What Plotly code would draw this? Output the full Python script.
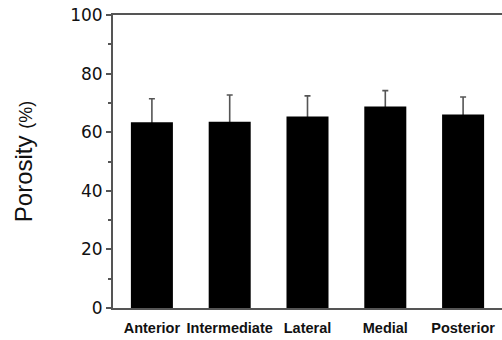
import plotly.graph_objects as go

categories = ["Anterior", "Intermediate", "Lateral", "Medial", "Posterior"]
porosity = [63.4, 63.6, 65.4, 68.8, 66.0]
error_up = [8.0, 9.1, 7.0, 5.4, 6.0]
y_ticks = [0, 20, 40, 60, 80, 100]

fig = go.Figure()
# error bars (drawn first so the black bars hide their lower end)
fig.add_trace(
    go.Bar(
        x=categories,
        y=porosity,
        width=0.54,
        marker=dict(color="rgba(0,0,0,0)", line=dict(width=0)),
        error_y=dict(
            type="data",
            symmetric=False,
            array=error_up,
            arrayminus=[3] * len(error_up),
            color="#555555",
            thickness=1.6,
            width=3,
        ),
        hoverinfo="skip",
    )
)
fig.add_trace(
    go.Bar(
        x=categories,
        y=porosity,
        width=0.54,
        marker=dict(color="#000000", line=dict(width=0)),
    )
)

fig.update_layout(
    width=502,
    height=340,
    barmode="overlay",
    margin=dict(l=113, r=0, t=15, b=32),
    paper_bgcolor="white",
    plot_bgcolor="white",
    showlegend=False,
    xaxis=dict(
        range=[-0.5, 4.5],
        showline=True,
        linecolor="#555555",
        linewidth=2,
        mirror=True,
        ticks="",
        tickangle=0,
        ticklabelstandoff=6,
        showgrid=False,
        tickfont=dict(family="Liberation Sans", size=14.5,
                      color="#111111", weight="bold"),
    ),
    yaxis=dict(
        range=[0, 100],
        tickvals=y_ticks,
        showline=True,
        linecolor="#555555",
        linewidth=2,
        ticks="outside",
        ticklen=5,
        tickwidth=1.5,
        tickcolor="#555555",
        showgrid=False,
        zeroline=False,
        minor=dict(dtick=10, ticks="outside", ticklen=3, tickwidth=1.5, tickcolor="#555555"),
        tickfont=dict(family="DejaVu Sans", size=17, color="#111111"),
        title=dict(
            text="Porosity <span style='font-size:18px'>(%)</span>",
            font=dict(family="Liberation Sans", size=24, color="#111111"),
            standoff=31,
        ),
    ),
)

fig.write_html("out.html", config={"displayModeBar": False},
               post_script="document.body.style.margin='0';")
